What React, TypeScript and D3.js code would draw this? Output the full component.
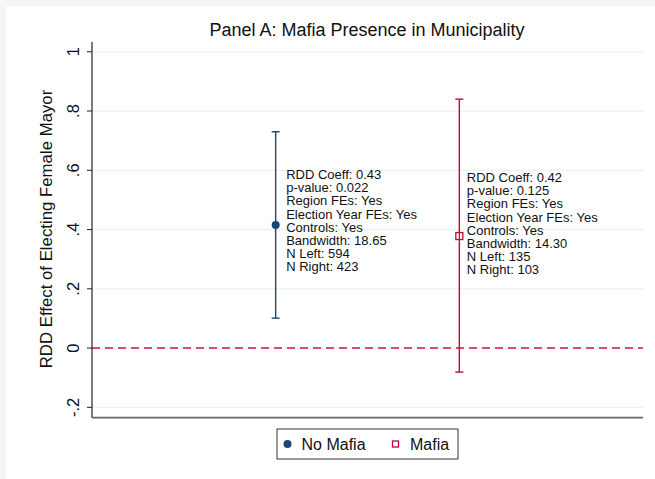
import React from "react";
import * as d3 from "d3";

const groups = ["No Mafia", "Mafia"];
const positions = [1, 2];
const estimates = [0.415, 0.378];
const ciLow = [0.101, -0.081];
const ciHigh = [0.73, 0.84];
const labelAnchors = [0.43, 0.42];
const labelLines = [
  ["RDD Coeff: 0.43", "p-value: 0.022", "Region FEs: Yes", "Election Year FEs: Yes", "Controls: Yes", "Bandwidth: 18.65", "N Left: 594", "N Right: 423"],
  ["RDD Coeff: 0.42", "p-value: 0.125", "Region FEs: Yes", "Election Year FEs: Yes", "Controls: Yes", "Bandwidth: 14.30", "N Left: 135", "N Right: 103"],
];
const yTicks = [-0.2, 0, 0.2, 0.4, 0.6, 0.8, 1];
const yTickLabels = ["-.2", "0", ".2", ".4", ".6", ".8", "1"];
const title = "Panel A: Mafia Presence in Municipality";
const yTitle = "RDD Effect of Electing Female Mayor";

const colors = ["#1a476f", "#c10534"];
const labelDx = [10.5, 7.5];

export default function App() {
  const W = 655, H = 479;
  const left = 92, right = 643, top = 42, bottom = 417.7;
  const x = d3.scaleLinear().domain([0, 3]).range([left, right]);
  const y = d3.scaleLinear().domain([-0.235, 1.033]).range([bottom, top]);
  const font = "'Liberation Sans', Arial, sans-serif";
  const lh = 13.2;

  return (
    <svg width={W} height={H} style={{ position: "absolute", left: 0, top: 0 }} fontFamily={font}>
      <rect x={0} y={0} width={W} height={H} fill="#f6f6f6" />
      <rect x={6} y={6} width={W - 6} height={H - 6} fill="#ffffff" />
      <text x={367} y={36} textAnchor="middle" fontSize={18} fill="#111">{title}</text>
      {yTicks.map((t) => (
        <line key={"g" + t} x1={left} x2={right} y1={y(t)} y2={y(t)} stroke="#eaf2f3" strokeWidth={1.2} />
      ))}
      <line x1={left} x2={right} y1={y(0)} y2={y(0)} stroke="#d5133f" strokeWidth={1.4} strokeDasharray="8,5" />
      <line x1={left} x2={left} y1={top} y2={bottom} stroke="#222" strokeWidth={1.2} />
      <line x1={left} x2={right} y1={bottom} y2={bottom} stroke="#666" strokeWidth={1.8} />
      {yTicks.map((t, i) => (
        <g key={"t" + t}>
          <line x1={left - 5} x2={left} y1={y(t)} y2={y(t)} stroke="#222" strokeWidth={1} />
          <text transform={`translate(${78.5},${y(t)}) rotate(-90)`} textAnchor="middle" fontSize={16.5} fill="#111">{yTickLabels[i]}</text>
        </g>
      ))}
      <text transform={`translate(${51.5},${229}) rotate(-90)`} textAnchor="middle" fontSize={16.8} fill="#111">{yTitle}</text>
      {groups.map((g, i) => {
        const cx = x(positions[i]);
        const c = colors[i];
        return (
          <g key={g}>
            <line x1={cx} x2={cx} y1={y(ciLow[i])} y2={y(ciHigh[i])} stroke={c} strokeWidth={1.4} />
            <line x1={cx - 4} x2={cx + 4} y1={y(ciLow[i])} y2={y(ciLow[i])} stroke={c} strokeWidth={1.4} />
            <line x1={cx - 4} x2={cx + 4} y1={y(ciHigh[i])} y2={y(ciHigh[i])} stroke={c} strokeWidth={1.4} />
            {i === 0 ? (
              <circle cx={cx} cy={y(estimates[i])} r={4} fill={c} />
            ) : (
              <rect x={cx - 3.5} y={y(estimates[i]) - 3.5} width={7} height={7} fill="#fff" stroke={c} strokeWidth={1.3} />
            )}
            {i === 1 && <line x1={cx} x2={cx} y1={y(estimates[i]) - 3.5} y2={y(estimates[i]) + 3.5} stroke={c} strokeWidth={1.2} />}
            <text fontSize={13} fill="#111">
              {labelLines[i].map((l, j) => (
                <tspan key={j} x={cx + labelDx[i]} y={y(labelAnchors[i]) - (lh * 7) / 2 + j * lh} dominantBaseline="central">{l}</tspan>
              ))}
            </text>
          </g>
        );
      })}
      <rect x={277} y={429} width={181} height={30} fill="#fff" stroke="#333" strokeWidth={1} />
      <circle cx={287.5} cy={444} r={4} fill={colors[0]} />
      <text x={301.5} y={444} dominantBaseline="central" fontSize={16} fill="#111">{groups[0]}</text>
      <rect x={392.5} y={441} width={6} height={6} fill="#fff" stroke={colors[1]} strokeWidth={1.3} />
      <text x={410} y={444} dominantBaseline="central" fontSize={16} fill="#111">{groups[1]}</text>
    </svg>
  );
}
